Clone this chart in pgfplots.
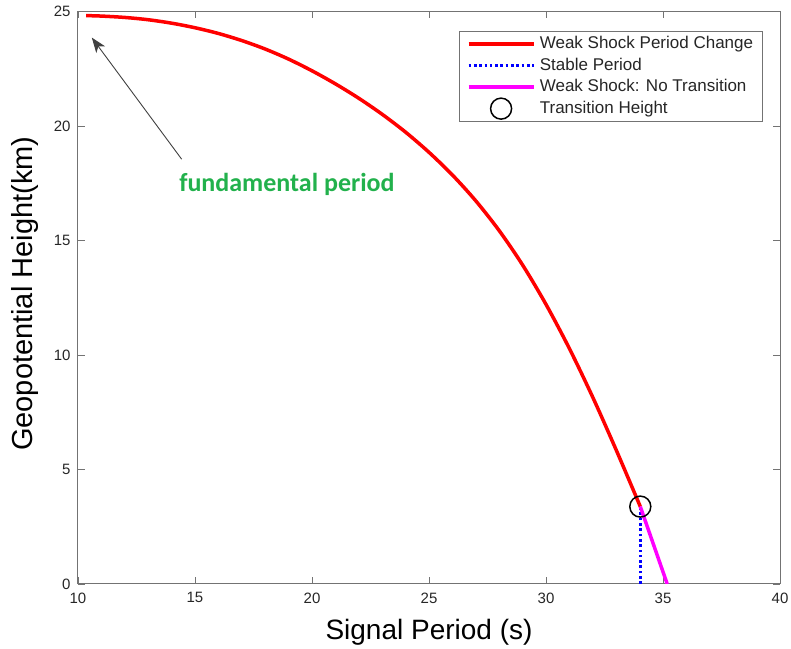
\documentclass[border=0pt]{standalone}
\usepackage{pgfplots}
\pgfplotsset{compat=1.18}
\usepackage{fontspec}
\setmainfont{Liberation Sans}
\newfontfamily\calibri{Carlito}
\usetikzlibrary{arrows.meta,calc}
\definecolor{axgray}{rgb}{0.45,0.45,0.45}
\definecolor{txtgray}{rgb}{0.15,0.15,0.15}
\definecolor{annogreen}{RGB}{34,177,76}
\definecolor{myred}{RGB}{255,0,0}
\definecolor{myblue}{RGB}{0,0,255}
\definecolor{mymagenta}{RGB}{255,0,255}
\pgfplotsset{circlelegend/.style={legend image code/.code={\draw[##1] plot coordinates {(32.5pt,0pt)};}}}
\begin{document}
\begin{tikzpicture}
\begin{axis}[
  name=ax,
  scale only axis,
  width=702pt, height=572.5pt,
  xmin=10, xmax=40, ymin=0, ymax=25,
  xtick={10,15,...,40}, ytick={0,5,...,25},
  tick align=inside,
  major tick length=7pt,
  tick style={axgray, line width=0.8pt},
  axis line style={axgray, line width=1pt},
  /pgf/number format/assume math mode=true,
  ticklabel style={font=\fontsize{15}{15}\selectfont, text=txtgray},
  xticklabel style={yshift=-5pt},
  yticklabel style={xshift=-4pt},
  xlabel={Signal Period (s)},
  ylabel={Geopotential Height(km)},
  xlabel style={font=\fontsize{28}{28}\selectfont, text=black, at={(axis description cs:0.5,0)}, anchor=base, yshift=-56pt},
  ylabel style={font=\fontsize{29}{29}\selectfont, text=black, at={(axis description cs:0,0.5)}, anchor=base, yshift=45pt, xshift=4pt},
  legend style={at={(rel axis cs:1,1)}, anchor=north east, xshift=-17pt, yshift=-19.5pt,
    draw=axgray, line width=0.8pt, font=\fontsize{17}{18}\selectfont, text=txtgray,
    inner xsep=7pt, inner ysep=2pt,
    nodes={inner sep=2.5pt, text height=12.8pt, text depth=3.7pt},
    column sep=2pt},
  legend cell align=left,
  legend image code/.code={\draw[#1] (0pt,0pt) -- (65pt,0pt);},
]
\addplot[myred, line width=3.5pt, smooth, tension=0.5] coordinates {
 (10.35,24.82) (11,24.80) (12,24.74) (13,24.64) (14,24.49) (15,24.29)
 (16,24.04) (17,23.73) (18,23.36) (19,22.92) (20,22.41) (21,21.84)
 (22,21.21) (23,20.51) (24,19.73) (25,18.85) (26,17.86) (27,16.73)
 (28,15.43) (29,13.93) (30,12.21) (31,10.28) (32,8.15) (33,5.85) (34.03,3.38)
};
\addlegendentry{Weak Shock Period Change}
\addplot[myblue, line width=3pt, dash pattern=on 2.6pt off 2.7pt] coordinates {
 (34.03,0) (34.03,3.38)
};
\addlegendentry{Stable Period}
\addplot[mymagenta, line width=3.5pt] coordinates {
 (34.03,3.38) (35.18,0)
};
\addlegendentry{Weak Shock: No Transition}
\addplot[only marks, mark=o, mark size=10.5pt, mark options={line width=1.5pt, draw=black}, black, circlelegend] coordinates {
 (34.03,3.38)
};
\addlegendentry{Transition Height}
\draw[line width=0.9pt, black!75, -{Stealth[length=15pt, width=11pt, inset=4pt]}]
  (axis cs:14.43,18.55) -- (axis cs:10.59,23.86);
\node[anchor=base, text=annogreen, font=\calibri\bfseries\fontsize{26}{26}\selectfont]
  at (axis cs:18.93,17.12) {fundamental period};
\end{axis}
\pgfresetboundingbox
\path[use as bounding box] ($(ax.south west)+(-78pt,-65pt)$) rectangle ($(ax.north east)+(11pt,11.5pt)$);
\end{tikzpicture}
\end{document}
